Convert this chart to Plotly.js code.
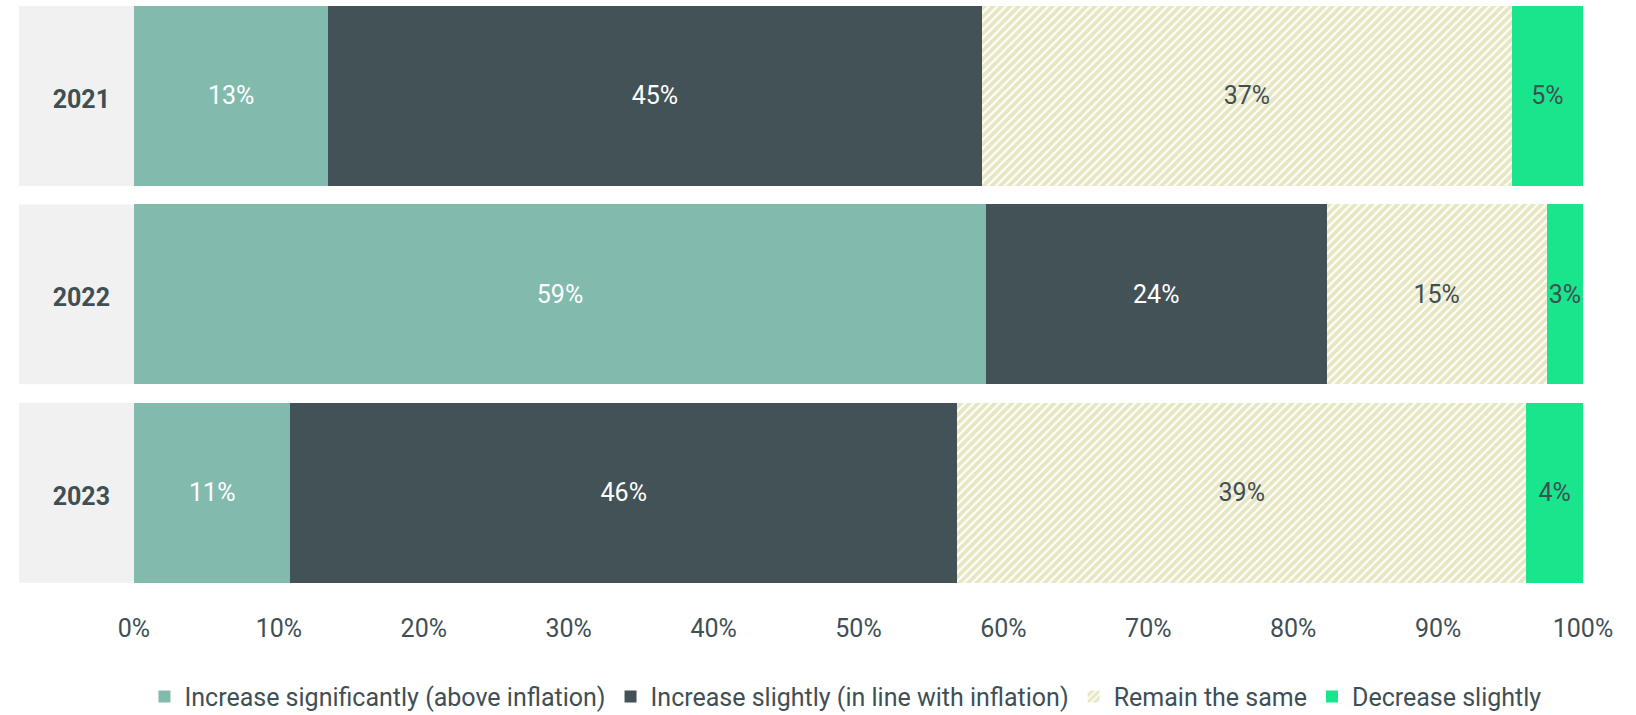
<!DOCTYPE html>
<html>
<head>
<meta charset="utf-8">
<script src="https://cdn.plot.ly/plotly-3.0.1.min.js"></script>
<style>
  html, body { margin: 0; padding: 0; background: #ffffff; }
  #chart { width: 1636px; height: 715px; }
</style>
</head>
<body>
<div id="chart"></div>
<script>
// ---- data ----
const years = ['2021', '2022', '2023'];
const seriesNames = [
  'Increase significantly (above inflation)',
  'Increase slightly (in line with inflation)',
  'Remain the same',
  'Decrease slightly'
];
const increaseSignificantly = [13.4, 58.8, 10.8];
const increaseSlightly      = [45.1, 23.5, 46.0];
const remainSame            = [36.6, 15.2, 39.3];
const decreaseSlightly      = [4.9, 2.5, 3.9];
const tickValues = [0, 10, 20, 30, 40, 50, 60, 70, 80, 90, 100];
const tickLabels = ['0%', '10%', '20%', '30%', '40%', '50%', '60%', '70%', '80%', '90%', '100%'];

// ---- styles ----
const FONT = 'Roboto, "Open Sans", sans-serif';
const TEXT_DARK = '#3f4f54';
const colors = ['#82bbad', '#435256', '#d2ce86', '#19e68c'];
const textColors = ['#ffffff', '#ffffff', TEXT_DARK, TEXT_DARK];
const allSeries = [increaseSignificantly, increaseSlightly, remainSame, decreaseSlightly];

const traces = allSeries.map((vals, i) => {
  const t = {
    type: 'bar',
    orientation: 'h',
    name: seriesNames[i],
    y: years,
    x: vals,
    text: vals.map(v => Math.round(v) + '%'),
    textposition: 'inside',
    insidetextanchor: 'middle',
    textangle: 0,
    textfont: { family: FONT, size: 25, color: textColors[i] },
    hoverinfo: 'skip',
    width: 0.907,
    marker: { color: colors[i], line: { width: 0 } }
  };
  if (i === 2) {
    t.marker = {
      color: '#ffffff',
      line: { width: 0 },
      pattern: { shape: '/', fgcolor: colors[2], bgcolor: '#ffffff', size: 6, solidity: 0.65, fillmode: 'overlay' }
    };
  }
  return t;
});

// grey label panels behind the year labels
const shapes = years.map((y, i) => ({
  type: 'rect', layer: 'below',
  xref: 'paper', yref: 'y',
  x0: -0.0794, x1: 0,
  y0: i - 0.4535, y1: i + 0.4535,
  fillcolor: '#f1f1f1', line: { width: 0 }
}));

const layout = {
  width: 1636, height: 715,
  margin: { l: 134, r: 53, t: 0, b: 123, pad: 0, autoexpand: false },
  paper_bgcolor: '#ffffff',
  plot_bgcolor: '#ffffff',
  barmode: 'stack',
  barnorm: 'percent',
  uniformtext: { mode: 'show', minsize: 25 },
  font: { family: FONT, size: 25, color: TEXT_DARK },
  xaxis: {
    range: [0, 100], autorange: false,
    tickmode: 'array', tickvals: tickValues, ticktext: tickLabels,
    showgrid: false, zeroline: false, showline: false, ticks: '',
    ticklabelstandoff: 19,
    tickfont: { family: FONT, size: 25, color: TEXT_DARK },
    automargin: false, fixedrange: true
  },
  yaxis: {
    type: 'category',
    range: [2.5, -0.4836], autorange: false,
    showgrid: false, zeroline: false, showline: false, ticks: '',
    ticklabelstandoff: 23,
    ticklabelshift: -3,
    tickfont: { family: FONT, size: 25, color: TEXT_DARK, weight: 'bold' },
    automargin: false, fixedrange: true
  },
  shapes: shapes,
  showlegend: true,
  legend: {
    orientation: 'h',
    x: 0.491, xanchor: 'center',
    y: -0.177, yanchor: 'middle',
    traceorder: 'normal',
    bgcolor: 'rgba(0,0,0,0)',
    font: { family: FONT, size: 25, color: TEXT_DARK }
  }
};

Plotly.newPlot('chart', traces, layout, { displayModeBar: false, staticPlot: true });
</script>
</body>
</html>
